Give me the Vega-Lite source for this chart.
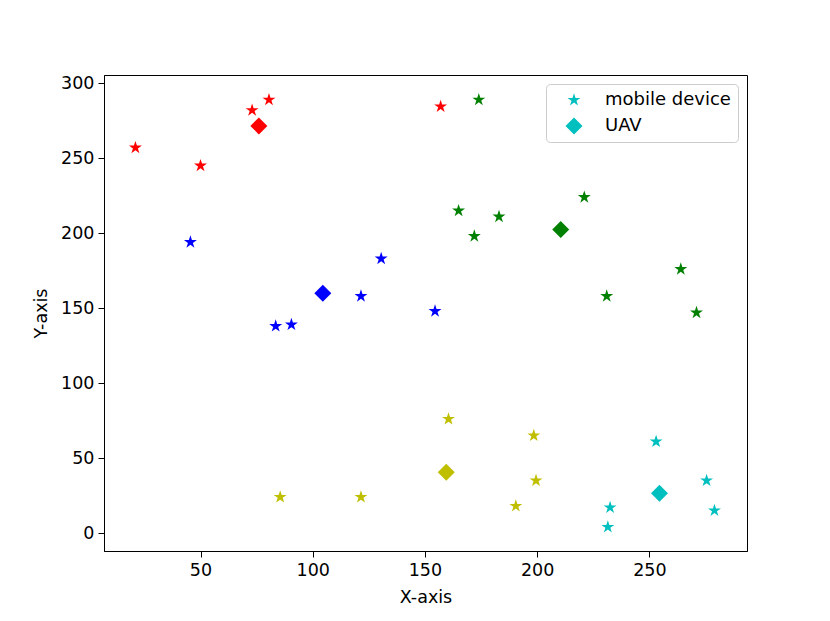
{
  "$schema": "https://vega.github.io/schema/vega-lite/v6.json",
  "width": 643,
  "height": 476,
  "autosize": {"type": "none"},
  "padding": {"left": 104, "top": 75, "right": 83, "bottom": 70},
  "background": "white",
  "config": {
    "font": "DejaVu Sans",
    "view": {"stroke": "black", "strokeWidth": 1},
    "axis": {
      "grid": false,
      "domainColor": "black",
      "tickColor": "black",
      "tickSize": 6,
      "labelFontSize": 17.5,
      "labelColor": "black",
      "titleFontSize": 17.5,
      "titleFontWeight": "normal",
      "titleColor": "black",
      "labelPadding": 4
    }
  },
  "data": {
    "values": [
      {"x": 21, "y": 257, "group": "r", "type": "mobile device"},
      {"x": 50, "y": 245, "group": "r", "type": "mobile device"},
      {"x": 73, "y": 282, "group": "r", "type": "mobile device"},
      {"x": 80.5, "y": 289, "group": "r", "type": "mobile device"},
      {"x": 157, "y": 284.5, "group": "r", "type": "mobile device"},
      {"x": 76, "y": 271.5, "group": "r", "type": "UAV"},
      {"x": 45.5, "y": 194, "group": "b", "type": "mobile device"},
      {"x": 83.5, "y": 138, "group": "b", "type": "mobile device"},
      {"x": 90.5, "y": 139, "group": "b", "type": "mobile device"},
      {"x": 121.5, "y": 158, "group": "b", "type": "mobile device"},
      {"x": 130.5, "y": 183, "group": "b", "type": "mobile device"},
      {"x": 154.5, "y": 148, "group": "b", "type": "mobile device"},
      {"x": 104.5, "y": 160, "group": "b", "type": "UAV"},
      {"x": 174, "y": 289, "group": "g", "type": "mobile device"},
      {"x": 165, "y": 215, "group": "g", "type": "mobile device"},
      {"x": 172, "y": 198, "group": "g", "type": "mobile device"},
      {"x": 183, "y": 211, "group": "g", "type": "mobile device"},
      {"x": 221, "y": 224, "group": "g", "type": "mobile device"},
      {"x": 264, "y": 176, "group": "g", "type": "mobile device"},
      {"x": 271, "y": 147, "group": "g", "type": "mobile device"},
      {"x": 231, "y": 158, "group": "g", "type": "mobile device"},
      {"x": 210.5, "y": 202.5, "group": "g", "type": "UAV"},
      {"x": 160.5, "y": 76, "group": "y", "type": "mobile device"},
      {"x": 198.5, "y": 65, "group": "y", "type": "mobile device"},
      {"x": 199.5, "y": 35, "group": "y", "type": "mobile device"},
      {"x": 190.5, "y": 18, "group": "y", "type": "mobile device"},
      {"x": 85.5, "y": 24, "group": "y", "type": "mobile device"},
      {"x": 121.5, "y": 24, "group": "y", "type": "mobile device"},
      {"x": 159.5, "y": 40.5, "group": "y", "type": "UAV"},
      {"x": 253, "y": 61, "group": "c", "type": "mobile device"},
      {"x": 275.5, "y": 35, "group": "c", "type": "mobile device"},
      {"x": 279, "y": 15, "group": "c", "type": "mobile device"},
      {"x": 232.5, "y": 17, "group": "c", "type": "mobile device"},
      {"x": 231.5, "y": 4, "group": "c", "type": "mobile device"},
      {"x": 254.5, "y": 26.5, "group": "c", "type": "UAV"}
    ]
  },
  "mark": {"type": "point", "filled": true, "opacity": 1, "strokeWidth": 0, "size": 185},
  "encoding": {
    "x": {
      "field": "x", "type": "quantitative", "title": "X-axis",
      "scale": {"domain": [7, 293.5], "nice": false, "zero": false},
      "axis": {"values": [50, 100, 150, 200, 250], "titlePadding": 10}
    },
    "y": {
      "field": "y", "type": "quantitative", "title": "Y-axis",
      "scale": {"domain": [-12, 305.5], "nice": false, "zero": false},
      "axis": {"values": [0, 50, 100, 150, 200, 250, 300], "titlePadding": 10}
    },
    "color": {
      "field": "group", "type": "nominal", "legend": null,
      "scale": {"domain": ["r", "b", "g", "y", "c"], "range": ["#ff0000", "#0000ff", "#008000", "#bfbf00", "#00bfbf"]}
    },
    "shape": {
      "field": "type", "type": "nominal", "title": null,
      "scale": {"domain": ["mobile device", "UAV"], "range": ["M0,-1L0.2245,-0.309L0.951,-0.309L0.363,0.118L0.588,0.809L0,0.382L-0.588,0.809L-0.363,0.118L-0.951,-0.309L-0.2245,-0.309Z", "M0,-1.25L1.25,0L0,1.25L-1.25,0Z"]},
      "legend": {
        "orient": "top-right",
        "offset": 9,
        "strokeColor": "#cccccc",
        "fillColor": "white",
        "cornerRadius": 4,
        "padding": 7,
        "labelFontSize": 18,
        "labelColor": "black",
        "symbolFillColor": "#00bfbf",
        "symbolStrokeWidth": 0,
        "symbolSize": 185,
        "symbolOffset": 12,
        "rowPadding": 8,
        "labelOffset": 22
      }
    }
  }
}
